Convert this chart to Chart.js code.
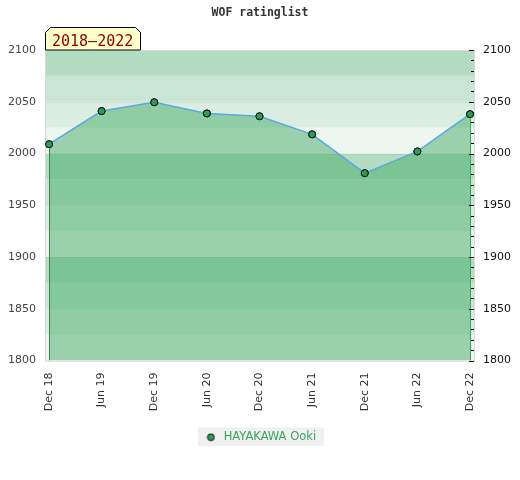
<!DOCTYPE html>
<html>
<head>
<meta charset="utf-8">
<script src="https://cdn.jsdelivr.net/npm/chart.js@4"></script>
<style>
  html, body { margin: 0; padding: 0; background: #fff; }
  #wrap { width: 520px; height: 480px; }
</style>
</head>
<body>
<div id="wrap"><canvas id="chart" width="520" height="480"></canvas></div>
<script>
const periods = ["Dec 18", "Jun 19", "Dec 19", "Jun 20", "Dec 20", "Jun 21", "Dec 21", "Jun 22", "Dec 22"];
const ratings = [2009, 2041, 2049.5, 2038.7, 2036, 2018.5, 1981, 2002, 2038];
const playerName = "HAYAKAWA Ooki";
const rangeLabel = "2018–2022";
const chartTitle = "WOF ratinglist";
const yMin = 1800, yMax = 2100, yStep = 50, yMinorStep = 10;

// background stripes, every 25 points, lightest at the bottom of each 100
const bandColors = ["#eef6f0", "#dbede1", "#c9e5d3", "#b3dcc2"];

// small legend marker (green dot, black rim)
const marker = document.createElement("canvas");
marker.width = 9; marker.height = 9;
(() => {
  const m = marker.getContext("2d");
  m.beginPath(); m.arc(4.5, 4.5, 3.4, 0, Math.PI * 2);
  m.fillStyle = "#2e9b57"; m.fill();
  m.lineWidth = 1; m.strokeStyle = "#111"; m.stroke();
})();

const bandsPlugin = {
  id: "bands",
  beforeDatasetsDraw(chart) {
    const { ctx, chartArea: a } = chart;
    const y = chart.scales.y;
    ctx.save();
    for (let v = yMin; v < yMax; v += 25) {
      const top = y.getPixelForValue(v + 25), bot = y.getPixelForValue(v);
      ctx.fillStyle = bandColors[((v - yMin) / 25) % 4];
      ctx.fillRect(a.left, top, a.right - a.left, bot - top);
    }
    // faint lines on the 50s
    ctx.strokeStyle = "rgba(120,130,120,0.12)";
    ctx.lineWidth = 1;
    for (let v = yMin; v <= yMax; v += yStep) {
      const py = Math.round(y.getPixelForValue(v)) + 0.5;
      ctx.beginPath(); ctx.moveTo(a.left, py); ctx.lineTo(a.right, py); ctx.stroke();
    }
    ctx.restore();
  },
  afterDatasetsDraw(chart) {
    const { ctx, chartArea: a } = chart;
    const pts = chart.getDatasetMeta(0).data;
    const first = pts[0], last = pts[pts.length - 1];
    ctx.save();
    ctx.lineWidth = 1;
    ctx.strokeStyle = "#3f7f58";
    ctx.beginPath(); ctx.moveTo(Math.round(first.x) + 0.5, first.y + 4); ctx.lineTo(Math.round(first.x) + 0.5, a.bottom); ctx.stroke();
    ctx.strokeStyle = "#2fae55";
    ctx.beginPath(); ctx.moveTo(Math.round(last.x) + 0.5, last.y + 4); ctx.lineTo(Math.round(last.x) + 0.5, a.bottom); ctx.stroke();
    // plot border
    ctx.strokeStyle = "#d8d8d8";
    ctx.strokeRect(a.left + 0.5, a.top + 0.5, a.right - a.left - 1, a.bottom - a.top);
    // inward ticks of the right axis, every 10 points
    const y2 = chart.scales.y2;
    ctx.strokeStyle = "#000";
    y2.ticks.forEach(t => {
      const py = Math.round(y2.getPixelForValue(t.value)) + 0.5;
      const len = t.value % yStep === 0 ? 5 : 3;
      ctx.beginPath(); ctx.moveTo(a.right - 1 - len, py); ctx.lineTo(a.right - 1, py); ctx.stroke();
    });
    // redraw points on top of the vertical lines
    pts.forEach(p => p.draw(ctx, a));
    ctx.restore();
  }
};

const tagPlugin = {
  id: "rangeTag",
  afterDraw(chart) {
    const { ctx, chartArea: a } = chart;
    const l = a.left + 0.5, r = a.left + 95.5, t = a.top - 22.5, b = a.top, c = 5;
    ctx.save();
    ctx.beginPath();
    ctx.moveTo(l, b); ctx.lineTo(l, t + c); ctx.lineTo(l + c, t);
    ctx.lineTo(r - c, t); ctx.lineTo(r, t + c); ctx.lineTo(r, b);
    ctx.closePath();
    ctx.fillStyle = "#ffffcc"; ctx.fill();
    ctx.strokeStyle = "#000"; ctx.lineWidth = 1; ctx.stroke();
    ctx.fillStyle = "#8b0000";
    ctx.font = "15px 'DejaVu Sans Mono', monospace";
    ctx.textAlign = "left"; ctx.textBaseline = "alphabetic";
    ctx.fillText(rangeLabel, l + 6.5, b - 4);
    ctx.restore();
  }
};

const legendBgPlugin = {
  id: "legendBg",
  beforeDraw(chart) {
    const lg = chart.legend;
    if (!lg || !lg.legendHitBoxes || !lg.legendHitBoxes.length) return;
    const h = lg.legendHitBoxes[0];
    const { ctx } = chart;
    ctx.save();
    ctx.fillStyle = "#f0f0f0";
    ctx.fillRect(h.left - 6, h.top - 4, h.width + 14, h.height + 7);
    ctx.restore();
  }
};

new Chart(document.getElementById("chart"), {
  type: "line",
  data: {
    datasets: [{
      label: playerName,
      data: ratings.map((v, i) => ({ x: i, y: v })),
      borderColor: "#5aa9e0",
      borderWidth: 1.5,
      backgroundColor: "rgba(61,169,96,0.475)",
      fill: "start",
      tension: 0,
      pointRadius: 3.5,
      pointHoverRadius: 3.5,
      pointBackgroundColor: "#2e9b57",
      pointBorderColor: "#111",
      pointBorderWidth: 1
    }]
  },
  options: {
    responsive: false,
    animation: false,
    layout: { padding: { left: 0, right: 0, top: 0, bottom: 27 } },
    scales: {
      x: {
        type: "linear",
        min: -0.076,
        max: 8.095,
        afterBuildTicks: s => { s.ticks = periods.map((p, i) => ({ value: i })); },
        afterFit: s => { s.height = 66; },
        grid: { display: false, drawTicks: false },
        border: { display: false },
        ticks: {
          autoSkip: false,
          minRotation: 90,
          maxRotation: 90,
          padding: 12,
          color: "#333",
          font: { family: "DejaVu Sans", size: 11 },
          callback: v => periods[v]
        }
      },
      y: {
        position: "left",
        min: yMin,
        max: yMax,
        afterFit: s => { s.width = 45; },
        grid: { display: false, drawTicks: false },
        border: { display: false },
        ticks: {
          stepSize: yStep,
          padding: 9,
          color: "#444",
          font: { family: "DejaVu Sans", size: 11 },
          callback: v => String(v)
        }
      },
      y2: {
        position: "right",
        min: yMin,
        max: yMax,
        afterFit: s => { s.width = 45; },
        grid: { display: false, drawTicks: false },
        border: { display: false },
        ticks: {
          stepSize: yMinorStep,
          autoSkip: false,
          padding: 8,
          color: "#111",
          font: { family: "DejaVu Sans", size: 11 },
          callback: v => (v % yStep === 0 ? String(v) : "")
        }
      }
    },
    plugins: {
      title: {
        display: true,
        text: chartTitle,
        color: "#333",
        font: { family: "DejaVu Sans Mono", size: 11.5, weight: "bold" },
        padding: { top: 6, bottom: 30.2 }
      },
      legend: {
        position: "bottom",
        labels: {
          usePointStyle: true,
          pointStyle: marker,
          pointStyleWidth: 14,
          boxHeight: 7,
          padding: 5,
          color: "#3aa35f",
          font: { family: "DejaVu Sans", size: 11.5 },
          generateLabels: chart => Chart.defaults.plugins.legend.labels.generateLabels(chart).map(it => ({
            ...it, pointStyle: marker, fontColor: "#3aa35f"
          }))
        }
      },
      tooltip: { enabled: false }
    }
  },
  plugins: [bandsPlugin, tagPlugin, legendBgPlugin]
});
</script>
</body>
</html>
